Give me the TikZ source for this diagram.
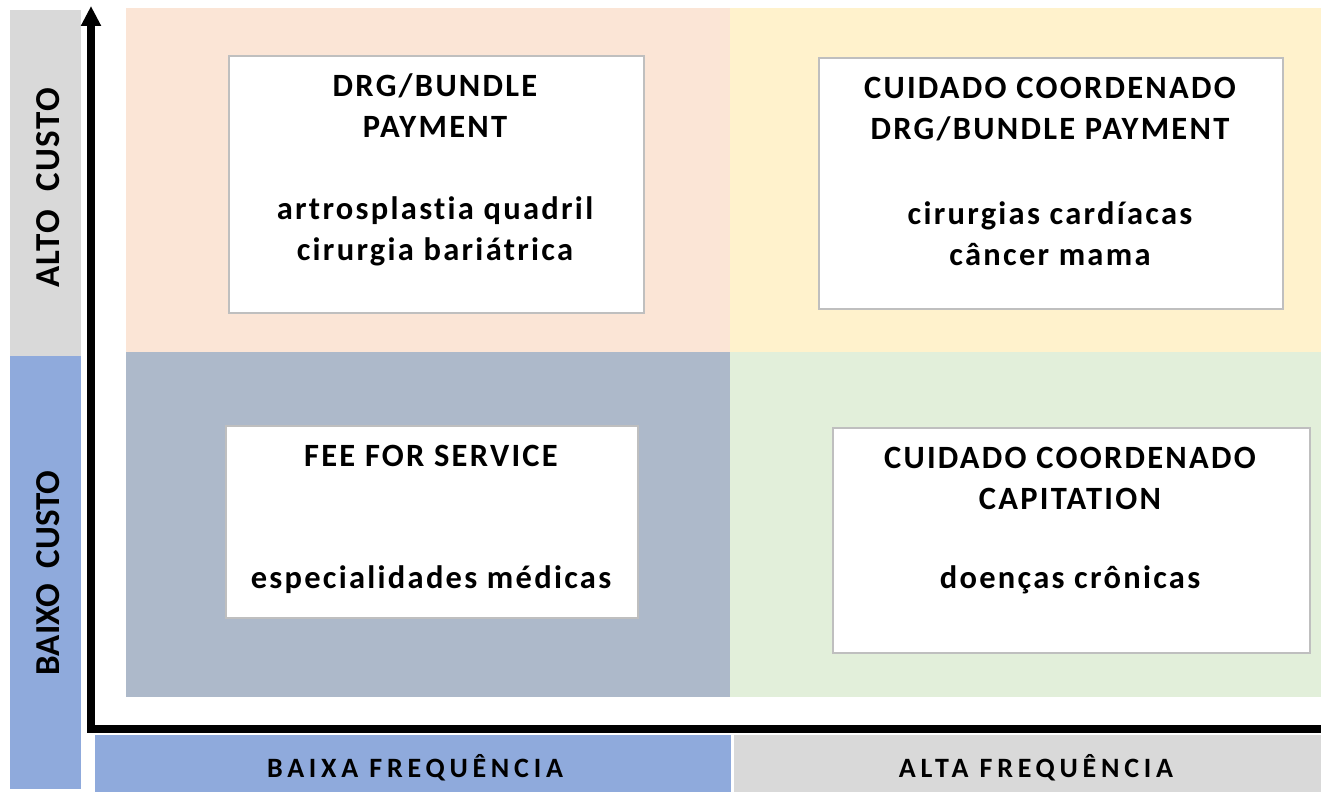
\documentclass[tikz,border=0pt]{standalone}
\usepackage{fontspec}
\setmainfont{Carlito}
\newfontfamily\cardfont[LetterSpace=7,Ligatures=NoCommon]{Carlito}
\newfontfamily\barfont[LetterSpace=17]{Carlito}
\newfontfamily\altofont[LetterSpace=4]{Carlito}
\usetikzlibrary{arrows.meta}

\definecolor{peach}{HTML}{FBE5D6}
\definecolor{cream}{HTML}{FFF2CC}
\definecolor{slate}{HTML}{ADB9CA}
\definecolor{mint}{HTML}{E2EFDA}
\definecolor{lightgray}{HTML}{D9D9D9}
\definecolor{softblue}{HTML}{8FAADC}
\definecolor{cardline}{HTML}{BFBFBF}

\tikzset{
  card/.style={draw=cardline,fill=white,line width=2pt,inner sep=0pt,anchor=north west},
  cardtext/.style={align=center,inner sep=0pt,font=\cardfont\bfseries\fontsize{32.5}{41}\selectfont},
  freqlabel/.style={inner sep=0pt,font=\barfont\bfseries\fontsize{28}{32}\selectfont},
  custolabel/.style={inner sep=0pt,rotate=90,font=#1\bfseries\fontsize{35}{40}\selectfont},
  custolabel/.default=\rmfamily,
}

\begin{document}
\begin{tikzpicture}[x=1pt,y=-1pt]
\useasboundingbox (0,0) rectangle (1321,792);

% quadrants
\fill[peach] (126,8) rectangle (730,352);
\fill[cream] (730,8) rectangle (1321,352);
\fill[slate] (126,352) rectangle (730,697);
\fill[mint] (730,352) rectangle (1321,697);

% side and bottom bars
\fill[lightgray] (10,10) rectangle (81,356);
\fill[softblue] (10,356) rectangle (81,789);
\fill[softblue] (95,735) rectangle (731,792);
\fill[lightgray] (734,735) rectangle (1321,792);

\node[custolabel=\altofont] (alto) at (48,188) {ALTO\ \ CUSTO};
\node[custolabel] (baixo) at (48,573) {BAIXO\ \ CUSTO};
\node[freqlabel] (baixafreq) at (415,768) {BAIXA FREQUÊNCIA};
\node[freqlabel] (altafreq) at (1036,768) {ALTA FREQUÊNCIA};

% axes
\coordinate (origin) at (91,729);
\coordinate (ytop) at (91,6);
\coordinate (xend) at (1321,729);
\draw[line width=7.5pt,-{Triangle[width=19pt,length=20pt]}] (xend) -- (origin) -- (ytop);

% boxes
\node[card,minimum width=415,minimum height=257] (drg) at (228,55) {};
\node[card,minimum width=464,minimum height=251] (ccdrg) at (818,57) {};
\node[card,minimum width=412,minimum height=192] (ffs) at (225,425) {};
\node[card,minimum width=477,minimum height=225] (cccap) at (832,427) {};

% box texts
\node[cardtext] (drgT) at (435,106) {DRG/BUNDLE\\PAYMENT};
\node[cardtext] (drgI) at (435,231) {artrosplastia quadril\\cirurgia bariátrica};
\node[cardtext] (ccdrgT) at (1050,109) {CUIDADO COORDENADO\\DRG/BUNDLE PAYMENT};
\node[cardtext] (ccdrgI) at (1050,234) {cirurgias cardíacas\\câncer mama};
\node[cardtext] (ffsT) at (431,456) {FEE FOR SERVICE};
\node[cardtext] (ffsI) at (431,580) {especialidades médicas};
\node[cardtext] (cccapT) at (1070,478) {CUIDADO COORDENADO\\CAPITATION};
\node[cardtext] (cccapI) at (1070,580) {doenças crônicas};
\end{tikzpicture}
\end{document}
